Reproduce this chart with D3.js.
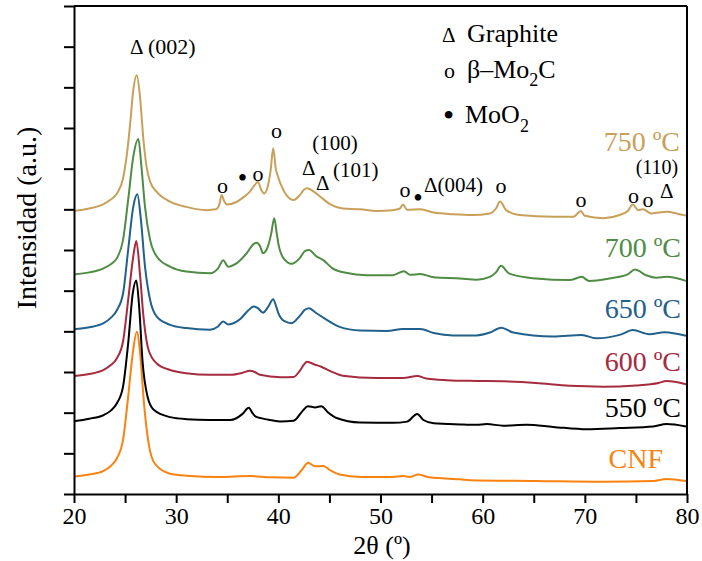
<!DOCTYPE html>
<html>
<head>
<meta charset="utf-8">
<script src="https://cdn.jsdelivr.net/npm/d3@7"></script>
<style>
  html, body { margin: 0; padding: 0; background: #fff; }
  svg { display: block; }
</style>
</head>
<body>
<svg id="chart" width="702" height="561"></svg>
<script>
// ---------- data (2θ in degrees, stacked intensity in a.u.) ----------
const seriesNames = ["CNF", "550 ºC", "600 ºC", "650 ºC", "700 ºC", "750 ºC"];
const seriesColors = ["#FA8211", "#000000", "#A62B3F", "#21618C", "#4F8C44", "#C8A05A"];
const xTicks = [20, 25, 30, 35, 40, 45, 50, 55, 60, 65, 70, 75, 80];
const xTickLabels = ["20", "", "30", "", "40", "", "50", "", "60", "", "70", "", "80"];
const yTicks = [0, 1, 2, 3, 4, 5, 6, 7, 8, 9, 10, 11, 12];

const cnf = [[20,0.43],[21.5,0.48],[22.9,0.57],[23.6,0.69],[24.2,0.88],[24.8,1.33],[25.3,2.39],[25.75,3.46],[26.15,3.99],[26.5,3.38],[26.85,2.23],[27.3,1.25],[27.9,0.75],[29.4,0.5],[31.0,0.45],[34.3,0.42],[37.2,0.44],[39.2,0.41],[41.5,0.4],[42.3,0.59],[42.9,0.77],[43.6,0.68],[44.4,0.69],[45.1,0.58],[46.0,0.48],[48.0,0.42],[51.2,0.42],[52.2,0.44],[52.9,0.42],[53.7,0.48],[54.8,0.41],[57.8,0.36],[58.8,0.34],[65.2,0.32],[71.8,0.3],[76.7,0.32],[78.0,0.37],[79.9,0.32]];

const s550 = [[20,1.79],[21.5,1.85],[22.9,1.94],[23.6,2.05],[24.2,2.23],[24.8,2.64],[25.3,3.7],[25.75,4.93],[26.1,5.25],[26.4,4.52],[26.7,3.29],[27.2,2.39],[27.8,2.07],[29.4,1.89],[31.0,1.84],[33.3,1.82],[35.3,1.82],[36.5,1.97],[37.1,2.12],[37.5,1.98],[37.8,1.9],[38.4,1.86],[39.2,1.82],[40.2,1.78],[41.5,1.8],[42.3,2.02],[42.9,2.16],[43.6,2.13],[44.2,2.16],[44.9,2.0],[45.7,1.87],[48.0,1.76],[51.2,1.75],[52.6,1.78],[53.6,1.97],[54.2,1.82],[55.2,1.74],[57.8,1.71],[59.4,1.7],[60.4,1.72],[62.0,1.68],[64.3,1.7],[66.9,1.65],[70.2,1.59],[73.4,1.62],[76.7,1.66],[78.0,1.72],[79.9,1.66]];

const s600 = [[20,2.9],[21.5,2.95],[22.9,3.05],[23.6,3.17],[24.2,3.34],[24.8,3.75],[25.3,4.77],[25.8,5.84],[26.1,6.22],[26.45,5.43],[26.8,4.36],[27.3,3.54],[28.1,3.21],[29.4,3.05],[31.0,2.97],[33.3,2.93],[35.3,2.93],[36.5,2.98],[37.2,3.03],[37.7,3.0],[38.2,2.93],[40.2,2.87],[41.5,2.88],[42.1,3.03],[42.5,3.18],[42.8,3.25],[43.6,3.18],[44.2,3.13],[45.1,3.02],[46.3,2.91],[49.6,2.85],[52.2,2.85],[53.6,2.9],[54.5,2.84],[56.5,2.8],[59.4,2.78],[62.0,2.77],[65.2,2.73],[68.5,2.66],[71.8,2.64],[75.0,2.67],[77.2,2.73],[78.0,2.78],[79.9,2.7]];

const s650 = [[20,4.05],[21.5,4.1],[22.9,4.2],[23.6,4.33],[24.2,4.52],[24.8,4.93],[25.3,6.0],[25.8,7.06],[26.2,7.37],[26.55,6.74],[26.95,5.59],[27.45,4.77],[28.1,4.36],[29.4,4.16],[31.0,4.08],[33.3,4.04],[34.1,4.12],[34.6,4.24],[35.1,4.17],[36.3,4.31],[37.0,4.5],[37.6,4.61],[38.0,4.57],[38.5,4.46],[39.0,4.6],[39.5,4.79],[39.8,4.6],[40.0,4.45],[40.6,4.25],[41.3,4.2],[42.1,4.38],[42.6,4.53],[43.0,4.57],[43.7,4.45],[44.7,4.29],[46.0,4.11],[48.0,4.02],[50.6,4.01],[52.2,4.06],[53.9,4.06],[55.2,3.96],[57.1,3.9],[59.4,3.9],[60.7,3.97],[61.8,4.09],[63.0,3.97],[66.9,3.87],[69.7,3.91],[71.1,3.83],[73.5,3.92],[74.7,4.03],[76.3,3.93],[77.8,3.98],[79.9,3.89]];

const s700 = [[20,5.4],[21.5,5.45],[22.9,5.55],[23.6,5.65],[24.2,5.8],[24.8,6.25],[25.3,7.23],[25.8,8.29],[26.3,8.73],[26.6,8.05],[26.95,7.06],[27.45,6.25],[28.1,5.84],[29.4,5.59],[31.0,5.47],[33.3,5.43],[34.1,5.55],[34.6,5.75],[35.1,5.59],[35.9,5.67],[36.9,5.92],[37.6,6.15],[37.9,6.18],[38.2,6.1],[38.5,5.92],[39.0,6.1],[39.3,6.4],[39.6,6.78],[39.85,6.4],[40.0,6.16],[40.5,5.8],[41.3,5.66],[42.1,5.8],[42.6,5.97],[43.0,6.0],[43.7,5.85],[44.4,5.75],[45.3,5.55],[46.6,5.44],[48.6,5.38],[51.2,5.38],[52.3,5.48],[52.9,5.39],[53.9,5.41],[55.2,5.33],[57.8,5.3],[59.4,5.27],[60.7,5.34],[61.3,5.45],[61.8,5.61],[62.6,5.42],[65.2,5.3],[68.5,5.26],[69.7,5.34],[70.4,5.24],[72.4,5.3],[74.2,5.4],[74.9,5.52],[76.0,5.38],[77.0,5.32],[78.0,5.34],[79.9,5.24]];

const s750 = [[20,6.96],[21.5,7.02],[22.9,7.13],[23.6,7.24],[24.2,7.39],[24.8,7.76],[25.15,8.3],[25.5,9.11],[25.8,9.93],[26.14,10.3],[26.46,9.77],[26.8,8.7],[27.1,8.05],[27.45,7.68],[28.1,7.43],[29.4,7.19],[31.0,7.06],[33.0,6.98],[33.9,7.0],[34.2,7.1],[34.45,7.35],[34.7,7.2],[34.95,7.12],[35.9,7.18],[36.6,7.3],[37.2,7.43],[37.7,7.6],[38.0,7.68],[38.3,7.5],[38.6,7.39],[39.0,7.6],[39.25,7.97],[39.5,8.5],[39.75,8.0],[40.0,7.78],[40.2,7.64],[40.8,7.35],[41.5,7.23],[42.1,7.35],[42.5,7.48],[42.8,7.52],[43.4,7.45],[44.2,7.29],[45.1,7.12],[46.3,7.02],[48.0,7.0],[49.6,6.96],[51.2,6.98],[51.9,7.02],[52.2,7.12],[52.6,6.99],[53.9,7.0],[55.2,6.92],[57.1,6.88],[59.0,6.86],[60.7,6.9],[61.3,7.02],[61.7,7.19],[62.3,6.98],[63.6,6.86],[66.9,6.82],[68.9,6.82],[69.3,6.9],[69.6,6.96],[70.0,6.84],[71.8,6.78],[73.4,6.86],[74.2,6.96],[74.7,7.12],[75.2,6.98],[75.7,7.0],[76.5,6.9],[78.0,6.94],[79.0,6.9],[80,6.84]];

const seriesData = [cnf, s550, s600, s650, s700, s750];

// ---------- layout ----------
const serif = "Liberation Serif";
const svg = d3.select("#chart");
const mLeft = 74, mRight = 687, mTop = 6, mBottom = 494;
const x = d3.scaleLinear().domain([20, 80]).range([mLeft, mRight]);
const y = d3.scaleLinear().domain([0, 12]).range([mBottom, mTop]);

// curves
const line = d3.line().x(d => x(d[0])).y(d => y(d[1])).curve(d3.curveMonotoneX);
svg.append("g").selectAll("path").data(seriesData).join("path")
  .attr("d", d => line(d))
  .attr("fill", "none")
  .attr("stroke", (d, i) => seriesColors[i])
  .attr("stroke-width", 2)
  .attr("stroke-linejoin", "round");

// axes
const xAxis = d3.axisBottom(x).tickValues(xTicks)
  .tickFormat((d, i) => xTickLabels[i]).tickSize(9).tickSizeOuter(0).tickPadding(4);
const gx = svg.append("g").attr("transform", `translate(0,${mBottom})`).call(xAxis)
  .attr("font-size", 24);
gx.select(".domain").attr("stroke-width", 2);
gx.selectAll(".tick line").attr("stroke-width", 2);
gx.selectAll(".tick text").attr("fill", "#000");

const yAxis = d3.axisLeft(y).tickValues(yTicks).tickFormat("").tickSize(10).tickSizeOuter(0);
const gy = svg.append("g").attr("transform", `translate(${mLeft},0)`).call(yAxis);
gy.select(".domain").attr("stroke-width", 2);
gy.selectAll(".tick line").attr("stroke-width", 2);

// frame top & right
svg.append("line").attr("x1", mLeft).attr("x2", mRight).attr("y1", mTop).attr("y2", mTop)
  .attr("stroke", "#000").attr("stroke-width", 2);
svg.append("line").attr("x1", mRight).attr("x2", mRight).attr("y1", mTop).attr("y2", mBottom)
  .attr("stroke", "#000").attr("stroke-width", 2);

// axis titles
svg.append("text").attr("x", 382).attr("y", 554).attr("text-anchor", "middle")
  .attr("font-size", 26).text("2θ (º)");
svg.append("text").attr("transform", "translate(36,218) rotate(-90)")
  .attr("text-anchor", "middle").attr("font-size", 28).text("Intensidad (a.u.)");

// series labels
const labelPos = [[663, 468], [681, 417], [681, 371], [681, 318], [681, 257], [680, 151]];
svg.append("g").selectAll("text").data(seriesNames).join("text")
  .attr("x", (d, i) => labelPos[i][0]).attr("y", (d, i) => labelPos[i][1])
  .attr("text-anchor", "end").attr("font-size", 28)
  .attr("fill", (d, i) => seriesColors[i]).text(d => d);

// legend
const lg = svg.append("g").attr("font-size", 26);
const l1 = lg.append("text").attr("x", 442).attr("y", 42);
l1.append("tspan").attr("font-size", 21).text("Δ");
l1.append("tspan").attr("x", 467).text("Graphite");
const l2 = lg.append("text").attr("x", 444).attr("y", 78);
l2.append("tspan").attr("font-size", 22).text("o");
l2.append("tspan").attr("x", 467).text("β–Mo");
l2.append("tspan").attr("font-size", 18).attr("dy", 8).text("2");
l2.append("tspan").attr("dy", -8).text("C");
const l3 = lg.append("text").attr("x", 443).attr("y", 126);
l3.append("tspan").attr("font-size", 32).text("•");
l3.append("tspan").attr("x", 465).attr("dy", -3).text("MoO");
l3.append("tspan").attr("font-size", 18).attr("dy", 9).text("2");

// peak annotations
const ann = svg.append("g").attr("font-size", 21).attr("fill", "#000");
const t002 = ann.append("text").attr("x", 130).attr("y", 54);
t002.append("tspan").attr("font-size", 21).text("Δ");
t002.append("tspan").attr("x", 148).attr("font-size", 22).text("(002)");
const circ = [[222.5, 193], [258, 181], [276.5, 138], [405, 197], [501, 193], [581, 207], [633.5, 203], [648, 206.5]];
ann.selectAll("text.o").data(circ).join("text").attr("class", "o")
  .attr("x", d => d[0]).attr("y", d => d[1]).attr("text-anchor", "middle").attr("font-size", 22).text("o");
const dots = [[242.5, 187], [418, 207]];
ann.selectAll("text.dot").data(dots).join("text").attr("class", "dot")
  .attr("x", d => d[0]).attr("y", d => d[1]).attr("text-anchor", "middle").attr("font-size", 27).text("•");
ann.append("text").attr("x", 335).attr("y", 150).attr("text-anchor", "middle").text("(100)");
ann.append("text").attr("x", 302).attr("y", 175).attr("font-size", 21).text("Δ");
ann.append("text").attr("x", 316).attr("y", 190).attr("font-size", 21).text("Δ");
ann.append("text").attr("x", 333).attr("y", 177).text("(101)");
const t004 = ann.append("text").attr("x", 424).attr("y", 192);
t004.append("tspan").attr("font-size", 21).text("Δ");
t004.append("tspan").text("(004)");
ann.append("text").attr("x", 657).attr("y", 174).attr("text-anchor", "middle").attr("font-size", 20).text("(110)");
ann.append("text").attr("x", 660).attr("y", 198).attr("font-size", 21).text("Δ");

// serif font on every text element
svg.selectAll("text").attr("font-family", serif);
</script>
</body>
</html>
